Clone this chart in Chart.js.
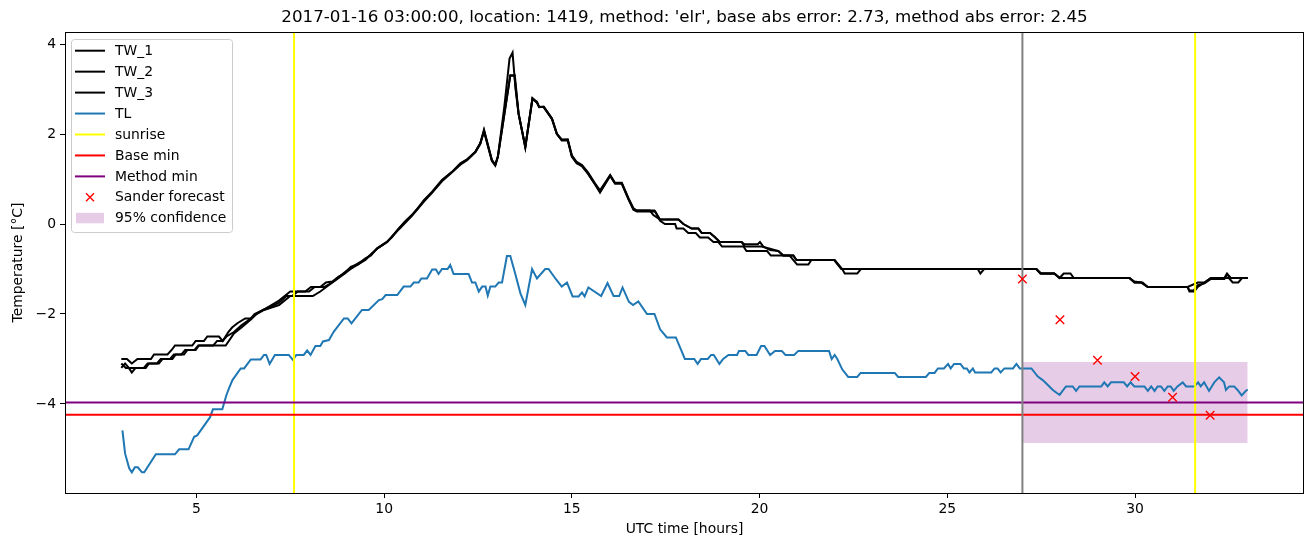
<!DOCTYPE html>
<html>
<head>
<meta charset="utf-8">
<script src="https://cdn.jsdelivr.net/npm/chart.js@4.4.0/dist/chart.umd.min.js"></script>
<style>
html,body{margin:0;padding:0;background:#fff;}
#wrap{position:relative;width:1313px;height:547px;}
</style>
</head>
<body>
<div id="wrap"><canvas id="c" width="1313" height="547"></canvas></div>
<script>
// ---------------- data ----------------
const titleText = "2017-01-16 03:00:00, location: 1419, method: 'elr', base abs error: 2.73, method abs error: 2.45";
const xLabel = "UTC time [hours]";
const yLabel = "Temperature [°C]";
const xTicks = [5, 10, 15, 20, 25, 30];
const yTicks = [-4, -2, 0, 2, 4];
const xRange = [1.5, 34.5];
const yRange = [-5.98, 4.27];

const tw1 = [[3.0,-3.0],[3.15,-3.0],[3.28,-3.1],[3.43,-3.0],[3.79,-3.0],[3.87,-2.9],[4.23,-2.9],[4.34,-2.8],[4.43,-2.7],[4.89,-2.7],[4.98,-2.6],[5.2,-2.6],[5.29,-2.5],[5.6,-2.5],[5.7,-2.6],[5.85,-2.4],[5.95,-2.3],[6.1,-2.2],[6.3,-2.1],[6.45,-2.1],[6.55,-2.0],[6.8,-1.9],[7.0,-1.8],[7.2,-1.7],[7.35,-1.6],[7.5,-1.5],[7.9,-1.5],[8.05,-1.4],[8.3,-1.4],[8.45,-1.3],[8.62,-1.28],[8.79,-1.17],[8.95,-1.1],[9.11,-0.95],[9.3,-0.9],[9.5,-0.76],[9.65,-0.7],[9.81,-0.54],[10.08,-0.39],[10.2,-0.3],[10.39,-0.1],[10.55,0.05],[10.74,0.2],[10.9,0.35],[11.06,0.53],[11.28,0.72],[11.54,0.98],[11.81,1.16],[12.03,1.35],[12.21,1.44],[12.43,1.61],[12.56,1.79],[12.66,2.1],[12.87,1.42],[12.96,1.31],[13.03,1.5],[13.2,2.6],[13.34,3.68],[13.42,3.81],[13.5,3.0],[13.58,2.46],[13.76,1.72],[13.95,2.79],[14.07,2.72],[14.13,2.6],[14.25,2.61],[14.47,2.35],[14.6,2.01],[14.73,1.87],[14.89,1.88],[15.0,1.53],[15.13,1.38],[15.27,1.31],[15.43,1.15],[15.62,0.9],[15.75,0.75],[16.02,1.09],[16.15,0.92],[16.33,0.92],[16.51,0.57],[16.64,0.35],[16.73,0.3],[17.08,0.3],[17.17,0.2],[17.35,0.1],[17.84,0.1],[17.97,0.0],[18.19,-0.1],[18.37,-0.1],[18.46,-0.2],[18.68,-0.2],[18.82,-0.3],[18.94,-0.4],[19.52,-0.4],[19.6,-0.5],[20.05,-0.5],[20.28,-0.55],[20.5,-0.6],[20.63,-0.7],[20.9,-0.7],[20.98,-0.8],[21.38,-0.8],[21.99,-0.8],[22.18,-1.0],[27.37,-1.0],[27.48,-1.1],[27.85,-1.1],[27.99,-1.2],[29.85,-1.2],[29.98,-1.3],[30.16,-1.3],[30.34,-1.4],[31.4,-1.4],[31.67,-1.3],[31.85,-1.3],[32.02,-1.2],[32.38,-1.2],[32.45,-1.1],[32.55,-1.2],[33.0,-1.2]];

const tw2 = [[3.0,-3.2],[3.1,-3.1],[3.2,-3.2],[3.28,-3.3],[3.38,-3.2],[3.65,-3.2],[3.74,-3.1],[4.0,-3.1],[4.1,-3.0],[4.36,-3.0],[4.45,-2.9],[4.67,-2.9],[4.76,-2.8],[4.98,-2.8],[5.07,-2.7],[5.78,-2.7],[6.0,-2.43],[6.2,-2.3],[6.45,-2.12],[6.6,-2.0],[6.8,-1.91],[7.2,-1.8],[7.5,-1.6],[8.1,-1.6],[8.3,-1.5],[8.62,-1.3],[8.79,-1.2],[9.11,-1.0],[9.5,-0.8],[9.81,-0.55],[10.08,-0.4],[10.39,-0.12],[10.74,0.18],[11.06,0.5],[11.28,0.7],[11.54,0.95],[11.81,1.15],[12.03,1.32],[12.21,1.42],[12.43,1.6],[12.56,1.8],[12.66,2.05],[12.87,1.4],[12.96,1.3],[13.03,1.5],[13.36,3.31],[13.48,3.31],[13.58,2.46],[13.76,1.7],[13.95,2.8],[14.07,2.7],[14.13,2.6],[14.25,2.6],[14.47,2.33],[14.6,2.0],[14.73,1.86],[14.89,1.86],[15.0,1.5],[15.13,1.36],[15.27,1.28],[15.43,1.12],[15.62,0.88],[15.75,0.7],[16.02,1.07],[16.15,0.9],[16.33,0.9],[16.51,0.55],[16.64,0.32],[16.73,0.28],[17.22,0.28],[17.35,0.07],[17.48,0.0],[17.75,0.0],[17.79,-0.1],[17.97,-0.1],[18.1,-0.2],[18.3,-0.2],[18.41,-0.3],[18.63,-0.3],[18.77,-0.4],[18.9,-0.4],[19.0,-0.5],[19.57,-0.5],[19.65,-0.6],[20.2,-0.6],[20.3,-0.7],[20.8,-0.7],[20.9,-0.8],[21.0,-0.9],[21.3,-0.9],[21.38,-0.8],[22.0,-0.8],[22.2,-1.0],[22.27,-1.1],[22.6,-1.1],[22.7,-1.0],[27.37,-1.0],[27.5,-1.1],[27.85,-1.1],[27.99,-1.2],[28.1,-1.1],[28.28,-1.1],[28.37,-1.2],[29.85,-1.2],[30.0,-1.3],[30.2,-1.3],[30.34,-1.4],[31.4,-1.4],[31.45,-1.5],[31.58,-1.5],[31.67,-1.4],[31.85,-1.3],[32.02,-1.2],[32.5,-1.2],[32.6,-1.3],[32.75,-1.3],[32.85,-1.2],[33.0,-1.2]];

const tw3 = [[3.0,-3.1],[3.12,-3.2],[3.28,-3.2],[3.6,-3.2],[3.7,-3.1],[3.95,-3.1],[4.05,-3.0],[4.3,-3.0],[4.4,-2.9],[4.6,-2.9],[4.7,-2.8],[4.95,-2.8],[5.05,-2.7],[5.45,-2.7],[5.55,-2.6],[5.7,-2.6],[5.8,-2.5],[6.0,-2.4],[6.2,-2.25],[6.45,-2.1],[6.6,-2.0],[6.8,-1.9],[7.2,-1.75],[7.4,-1.6],[7.55,-1.6],[7.7,-1.5],[8.0,-1.5],[8.15,-1.4],[8.4,-1.4],[8.62,-1.3],[8.79,-1.18],[9.11,-0.97],[9.5,-0.78],[9.81,-0.55],[10.08,-0.4],[10.39,-0.1],[10.74,0.2],[11.06,0.52],[11.28,0.71],[11.54,0.97],[11.81,1.16],[12.03,1.34],[12.21,1.43],[12.43,1.6],[12.56,1.78],[12.66,2.08],[12.87,1.42],[12.96,1.32],[13.03,1.5],[13.36,3.3],[13.47,3.3],[13.58,2.45],[13.76,1.72],[13.95,2.78],[14.07,2.7],[14.13,2.6],[14.25,2.6],[14.47,2.35],[14.6,2.0],[14.73,1.88],[14.89,1.88],[15.0,1.5],[15.13,1.35],[15.27,1.3],[15.43,1.12],[15.62,0.88],[15.75,0.72],[16.02,1.08],[16.15,0.9],[16.33,0.9],[16.51,0.55],[16.64,0.33],[16.73,0.3],[17.2,0.3],[17.35,0.1],[17.84,0.1],[17.97,0.0],[18.19,-0.1],[18.37,-0.1],[18.46,-0.2],[18.68,-0.2],[18.82,-0.3],[18.94,-0.4],[19.52,-0.4],[19.6,-0.45],[19.95,-0.45],[20.01,-0.4],[20.1,-0.5],[20.28,-0.58],[20.5,-0.6],[20.63,-0.7],[20.9,-0.7],[20.98,-0.8],[21.38,-0.8],[21.99,-0.8],[22.18,-1.0],[25.81,-1.0],[25.88,-1.1],[25.98,-1.0],[27.37,-1.0],[27.48,-1.1],[27.85,-1.1],[27.99,-1.2],[29.85,-1.2],[29.98,-1.28],[30.16,-1.3],[30.34,-1.4],[31.4,-1.4],[31.45,-1.48],[31.56,-1.48],[31.67,-1.36],[31.85,-1.32],[32.02,-1.22],[32.38,-1.22],[32.45,-1.12],[32.55,-1.2],[33.0,-1.2]];

const tl = [[3.03,-4.59],[3.10,-5.10],[3.21,-5.43],[3.28,-5.52],[3.36,-5.41],[3.44,-5.41],[3.55,-5.52],[3.61,-5.52],[3.92,-5.12],[4.43,-5.12],[4.54,-5.01],[4.79,-5.01],[4.94,-4.73],[5.02,-4.70],[5.36,-4.30],[5.44,-4.12],[5.69,-4.12],[5.80,-3.80],[5.87,-3.65],[5.96,-3.47],[6.18,-3.21],[6.27,-3.21],[6.45,-3.01],[6.71,-3.01],[6.80,-2.91],[6.86,-2.91],[6.95,-3.11],[7.09,-2.91],[7.46,-2.91],[7.57,-3.02],[7.66,-2.91],[7.86,-2.91],[7.95,-2.81],[8.04,-2.91],[8.17,-2.71],[8.30,-2.71],[8.37,-2.61],[8.53,-2.58],[8.66,-2.39],[8.93,-2.10],[9.03,-2.10],[9.13,-2.21],[9.41,-1.91],[9.59,-1.91],[9.86,-1.69],[9.95,-1.67],[10.04,-1.58],[10.35,-1.58],[10.52,-1.39],[10.70,-1.39],[10.79,-1.30],[10.92,-1.30],[10.99,-1.21],[11.14,-1.21],[11.28,-1.01],[11.38,-1.01],[11.45,-1.11],[11.54,-1.0],[11.69,-1.0],[11.76,-0.91],[11.85,-1.11],[12.25,-1.11],[12.34,-1.30],[12.43,-1.30],[12.52,-1.50],[12.61,-1.39],[12.70,-1.39],[12.76,-1.59],[12.83,-1.39],[12.96,-1.39],[13.05,-1.30],[13.14,-1.30],[13.27,-0.71],[13.36,-0.71],[13.49,-1.10],[13.63,-1.54],[13.76,-1.80],[13.94,-1.0],[14.07,-1.21],[14.29,-1.0],[14.38,-1.0],[14.56,-1.21],[14.73,-1.39],[14.87,-1.30],[15.02,-1.61],[15.18,-1.61],[15.27,-1.52],[15.34,-1.61],[15.44,-1.41],[15.78,-1.60],[15.95,-1.31],[16.11,-1.60],[16.26,-1.60],[16.35,-1.41],[16.52,-1.73],[16.63,-1.80],[16.77,-1.72],[17.0,-2.0],[17.2,-2.0],[17.35,-2.34],[17.53,-2.52],[17.77,-2.52],[18.01,-3.0],[18.26,-3.0],[18.35,-3.11],[18.44,-3.0],[18.62,-3.0],[18.71,-2.91],[18.78,-2.91],[18.93,-3.11],[19.03,-3.0],[19.17,-2.91],[19.40,-2.91],[19.45,-2.82],[19.62,-2.82],[19.70,-2.91],[19.92,-2.91],[20.04,-2.71],[20.13,-2.71],[20.28,-2.91],[20.41,-2.82],[20.59,-2.82],[20.69,-2.91],[20.92,-2.91],[21.03,-2.82],[21.85,-2.82],[21.92,-3.0],[22.0,-2.91],[22.07,-3.0],[22.2,-3.23],[22.36,-3.40],[22.6,-3.40],[22.69,-3.31],[23.60,-3.31],[23.69,-3.40],[24.43,-3.40],[24.52,-3.31],[24.66,-3.31],[24.75,-3.21],[24.91,-3.21],[25.02,-3.11],[25.09,-3.21],[25.18,-3.11],[25.35,-3.11],[25.44,-3.21],[25.52,-3.21],[25.59,-3.30],[25.68,-3.21],[25.74,-3.30],[26.17,-3.30],[26.26,-3.21],[26.34,-3.21],[26.42,-3.30],[26.52,-3.21],[26.75,-3.21],[26.84,-3.11],[26.93,-3.21],[27.24,-3.21],[27.41,-3.39],[27.54,-3.47],[27.63,-3.54],[27.81,-3.69],[27.99,-3.80],[28.16,-3.61],[28.34,-3.61],[28.43,-3.71],[28.52,-3.61],[29.10,-3.61],[29.18,-3.52],[29.27,-3.61],[29.36,-3.52],[29.70,-3.52],[29.79,-3.61],[29.88,-3.52],[29.98,-3.61],[30.25,-3.61],[30.34,-3.71],[30.43,-3.61],[30.52,-3.71],[30.60,-3.61],[30.69,-3.61],[30.78,-3.71],[30.87,-3.61],[30.95,-3.61],[31.03,-3.71],[31.13,-3.61],[31.27,-3.52],[31.36,-3.61],[31.58,-3.61],[31.68,-3.52],[31.75,-3.61],[31.84,-3.52],[31.97,-3.71],[32.11,-3.52],[32.24,-3.41],[32.37,-3.52],[32.42,-3.69],[32.51,-3.61],[32.64,-3.61],[32.73,-3.69],[32.84,-3.81],[32.95,-3.71],[33.0,-3.68]];

const sunriseTimes = [7.6, 31.6];
const forecastStart = 27.0;
const baseMin = -4.24;
const methodMin = -3.97;
const sanderTimes = [27, 28, 29, 30, 31, 32];
const sanderValues = [-1.22, -2.13, -3.03, -3.39, -3.85, -4.25];
const confTimes = [27.0, 33.0];
const confUpper = -3.07;
const confLower = -4.87;

// ---------------- build ----------------
const pts = a => a.map(p => ({x: p[0], y: p[1]}));
const vline = t => [{x: t, y: yRange[0]}, {x: t, y: yRange[1]}];
const hline = v => [{x: xRange[0], y: v}, {x: xRange[1], y: v}];
const base = {pointRadius: 0, borderWidth: 2, fill: false, tension: 0};

const FONT = "'DejaVu Sans', 'Liberation Sans', sans-serif";
const datasets = [
  Object.assign({}, base, {label: 'TW_1', data: pts(tw1), borderColor: '#000000', order: 20}),
  Object.assign({}, base, {label: 'TW_2', data: pts(tw2), borderColor: '#000000', order: 19}),
  Object.assign({}, base, {label: 'TW_3', data: pts(tw3), borderColor: '#000000', order: 18}),
  Object.assign({}, base, {label: 'TL', data: pts(tl), borderColor: '#1f77b4', order: 17}),
  Object.assign({}, base, {label: 'sunrise', data: vline(sunriseTimes[0]), borderColor: '#ffff00', order: 16}),
  Object.assign({}, base, {label: 'sunrise2', data: vline(sunriseTimes[1]), borderColor: '#ffff00', order: 15}),
  Object.assign({}, base, {label: 'Base min', data: hline(baseMin), borderColor: '#ff0000', order: 14}),
  Object.assign({}, base, {label: 'Method min', data: hline(methodMin), borderColor: '#800080', order: 13}),
  Object.assign({}, base, {label: 'forecast', data: vline(forecastStart), borderColor: '#808080', order: 12}),
  {label: 'Sander forecast', data: sanderTimes.map((t, i) => ({x: t, y: sanderValues[i]})), showLine: false,
   pointStyle: 'crossRot', pointRadius: 6, pointBorderWidth: 1.4, borderColor: '#ff0000', backgroundColor: '#ff0000', order: 11},
  {label: '95% confidence', data: confTimes.map(t => ({x: t, y: confUpper})), pointRadius: 0, borderWidth: 0,
   borderColor: 'rgba(0,0,0,0)', backgroundColor: 'rgba(128,0,128,0.2)', fill: '+1', order: 30},
  {label: 'conf_low', data: confTimes.map(t => ({x: t, y: confLower})), pointRadius: 0, borderWidth: 0,
   borderColor: 'rgba(0,0,0,0)', fill: false, order: 31}
];

const legendItems = [
  {t: 'line', c: '#000000', l: 'TW_1'},
  {t: 'line', c: '#000000', l: 'TW_2'},
  {t: 'line', c: '#000000', l: 'TW_3'},
  {t: 'line', c: '#1f77b4', l: 'TL'},
  {t: 'line', c: '#ffff00', l: 'sunrise'},
  {t: 'line', c: '#ff0000', l: 'Base min'},
  {t: 'line', c: '#800080', l: 'Method min'},
  {t: 'x', c: '#ff0000', l: 'Sander forecast'},
  {t: 'patch', c: 'rgba(128,0,128,0.2)', l: '95% confidence'}
];

const minus = v => (v < 0 ? '\u2212' + Math.abs(v) : String(v));

const decor = {
  id: 'decor',
  afterDraw(chart) {
    const ctx = chart.ctx, a = chart.chartArea;
    ctx.save();
    // frame
    ctx.strokeStyle = '#000'; ctx.lineWidth = 1;
    ctx.strokeRect(Math.round(a.left) + 0.5, Math.round(a.top) + 0.5, Math.round(a.right - a.left) - 1, Math.round(a.bottom - a.top));
    // title
    ctx.fillStyle = '#000';
    ctx.font = '16.7px ' + FONT;
    ctx.textAlign = 'center'; ctx.textBaseline = 'middle';
    ctx.fillText(titleText, (a.left + a.right) / 2, 18);
    // axis labels
    ctx.font = '13.9px ' + FONT;
    ctx.fillText(xLabel, (a.left + a.right) / 2, 529);
    ctx.save();
    ctx.translate(18, (a.top + a.bottom) / 2);
    ctx.rotate(-Math.PI / 2);
    ctx.fillText(yLabel, 0, 0);
    ctx.restore();
    // legend
    const bx = 71.5, by = 39.5, bw = 161, bh = 193, r = 3;
    ctx.beginPath();
    ctx.moveTo(bx + r, by);
    ctx.lineTo(bx + bw - r, by); ctx.quadraticCurveTo(bx + bw, by, bx + bw, by + r);
    ctx.lineTo(bx + bw, by + bh - r); ctx.quadraticCurveTo(bx + bw, by + bh, bx + bw - r, by + bh);
    ctx.lineTo(bx + r, by + bh); ctx.quadraticCurveTo(bx, by + bh, bx, by + bh - r);
    ctx.lineTo(bx, by + r); ctx.quadraticCurveTo(bx, by, bx + r, by);
    ctx.closePath();
    ctx.fillStyle = 'rgba(255,255,255,0.8)'; ctx.fill();
    ctx.strokeStyle = '#cccccc'; ctx.lineWidth = 1; ctx.stroke();
    ctx.textAlign = 'left'; ctx.textBaseline = 'middle';
    legendItems.forEach((it, i) => {
      const y = 50.7 + 20.95 * i;
      if (it.t === 'line') {
        ctx.strokeStyle = it.c; ctx.lineWidth = 2;
        ctx.beginPath(); ctx.moveTo(75, y); ctx.lineTo(105, y); ctx.stroke();
      } else if (it.t === 'x') {
        ctx.strokeStyle = it.c; ctx.lineWidth = 1.4;
        ctx.beginPath();
        ctx.moveTo(86, y - 4); ctx.lineTo(94, y + 4);
        ctx.moveTo(86, y + 4); ctx.lineTo(94, y - 4);
        ctx.stroke();
      } else {
        ctx.fillStyle = it.c; ctx.fillRect(76, y - 5.5, 28, 10.5);
      }
      ctx.fillStyle = '#000';
      ctx.font = '13.9px ' + FONT;
      ctx.fillText(it.l, 115, y + 0.5);
    });
    ctx.restore();
  }
};

new Chart(document.getElementById('c'), {
  type: 'line',
  data: {datasets},
  plugins: [decor],
  options: {
    responsive: false,
    animation: false,
    parsing: true,
    layout: {padding: {top: 32, right: 9, bottom: 0, left: 0}},
    plugins: {legend: {display: false}, tooltip: {enabled: false}, title: {display: false}},
    scales: {
      x: {
        type: 'linear', min: xRange[0], max: xRange[1],
        afterFit: s => { s.height = 54; },
        afterBuildTicks: s => { s.ticks = xTicks.map(v => ({value: v})); },
        grid: {display: true, drawOnChartArea: false, drawTicks: true, tickLength: 5, color: '#000', lineWidth: 1},
        border: {display: false},
        ticks: {color: '#000', font: {family: FONT, size: 13.9}, padding: 3, maxRotation: 0, autoSkip: false,
                callback: v => minus(v)}
      },
      y: {
        type: 'linear', min: yRange[0], max: yRange[1],
        afterFit: s => { s.width = 65; },
        afterBuildTicks: s => { s.ticks = yTicks.map(v => ({value: v})); },
        grid: {display: true, drawOnChartArea: false, drawTicks: true, tickLength: 5, color: '#000', lineWidth: 1},
        border: {display: false},
        ticks: {color: '#000', font: {family: FONT, size: 13.9}, padding: 4, autoSkip: false,
                callback: v => minus(v)}
      }
    }
  }
});
</script>
</body>
</html>
